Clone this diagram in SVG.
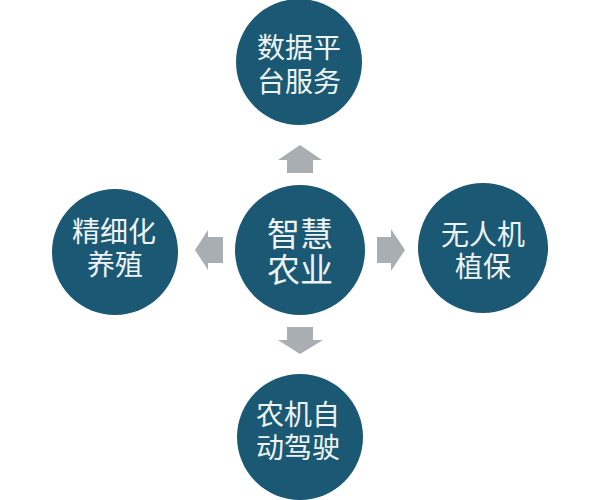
<svg xmlns="http://www.w3.org/2000/svg" width="600" height="500" viewBox="0 0 600 500">
<style>
.c{fill:#1b5873;}
.t{font-family:"Liberation Sans","Noto Sans CJK SC",sans-serif;fill:#eef4f4;text-anchor:middle;font-size:28px;}
.tc{font-size:33px;}
.a{fill:#a9aeb3;}
</style>
<rect width="600" height="500" fill="#ffffff"/>
<g id="connectors">
<polygon class="a" points="287,173 313,173 313,160 322,160 300,145 278,160 287,160"/>
<polygon class="a" points="223,237 223,263 208,263 208,270 195,250 208,230 208,237"/>
<polygon class="a" points="377,237 377,263 391,263 391,271 405,250 391,229 391,237"/>
<polygon class="a" points="287,327 313,327 313,340 323,340 300,354 278,340 287,340"/>
</g>
<g id="center">
<circle class="c" cx="300" cy="250" r="65"/>
<text class="t tc" x="300" y="246"><tspan x="300">智慧</tspan><tspan x="300" dy="36">农业</tspan></text>
</g>
<g id="top">
<circle class="c" cx="299" cy="62" r="63"/>
<text class="t" x="299" y="58"><tspan x="299">数据平</tspan><tspan x="299" dy="34">台服务</tspan></text>
</g>
<g id="left">
<circle class="c" cx="115" cy="252" r="63"/>
<text class="t" x="114" y="242"><tspan x="114">精细化</tspan><tspan x="115" dy="33">养殖</tspan></text>
</g>
<g id="right">
<circle class="c" cx="483" cy="248" r="65"/>
<text class="t" x="483" y="245"><tspan x="483">无人机</tspan><tspan x="483" dy="32">植保</tspan></text>
</g>
<g id="bottom">
<circle class="c" cx="300" cy="437" r="63"/>
<text class="t" x="298" y="425"><tspan x="298">农机自</tspan><tspan x="298" dy="33">动驾驶</tspan></text>
</g>
</svg>
